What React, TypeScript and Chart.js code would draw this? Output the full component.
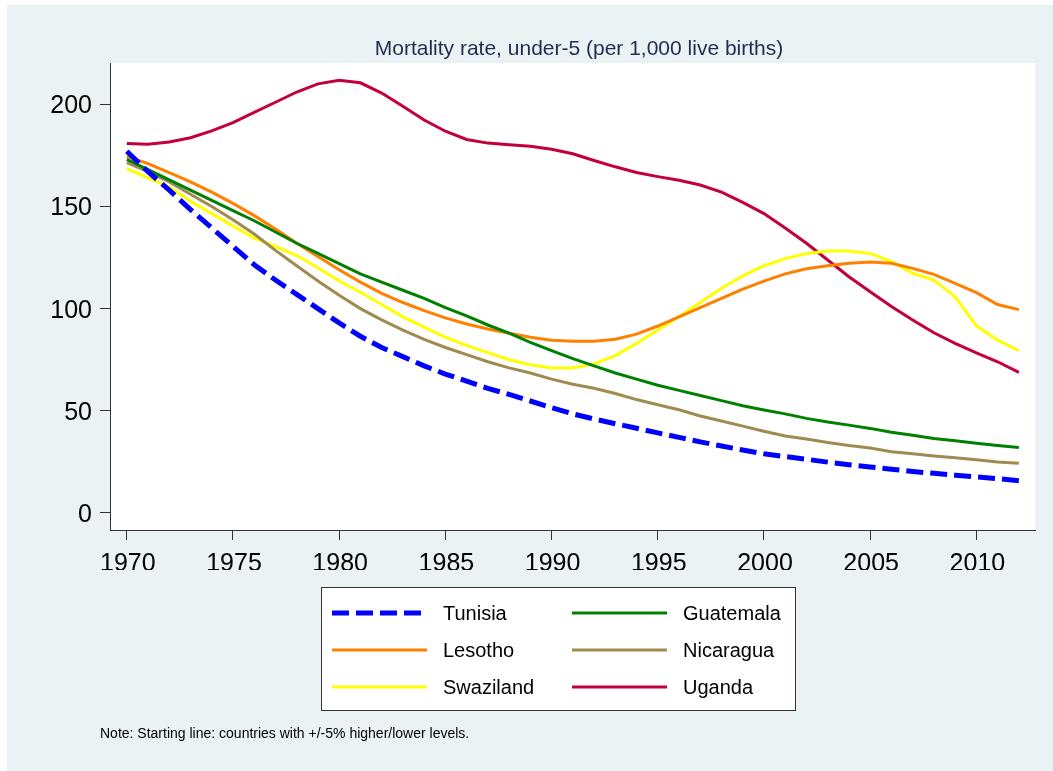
import React, { useEffect, useRef } from "react";
import { Chart, registerables } from "chart.js";
Chart.register(...registerables);

const years = [1970, 1971, 1972, 1973, 1974, 1975, 1976, 1977, 1978, 1979, 1980, 1981, 1982, 1983, 1984, 1985, 1986, 1987, 1988, 1989, 1990, 1991, 1992, 1993, 1994, 1995, 1996, 1997, 1998, 1999, 2000, 2001, 2002, 2003, 2004, 2005, 2006, 2007, 2008, 2009, 2010, 2011, 2012];

const tunisia = [177, 167, 158, 148.5, 139.5, 130.5, 121.5, 114, 107, 100, 93, 86.5, 81, 76.5, 72, 68, 64.5, 61, 58, 54.8, 51.5, 48.5, 46, 43.7, 41.5, 39.2, 37, 34.8, 32.8, 30.8, 29, 27.6, 26.3, 24.9, 23.6, 22.5, 21.4, 20.3, 19.4, 18.5, 17.7, 16.8, 15.8];
const guatemala = [173, 168, 163, 158, 153, 148, 143, 137.5, 132, 127, 122, 117, 113, 109, 105, 100.5, 96.5, 92, 88, 83.5, 79.5, 75.5, 72, 68.5, 65.5, 62.5, 60, 57.5, 55, 52.5, 50.4, 48.5, 46.3, 44.5, 43, 41.4, 39.5, 38, 36.5, 35.3, 34.1, 33, 32];
const lesotho = [174.5, 171, 166.5, 162, 157, 151.5, 145.5, 139, 132, 125.5, 119, 113, 107.5, 103, 99, 95.5, 92.5, 90, 88, 86, 84.5, 84, 84, 85, 87.5, 91.5, 96, 100.5, 105, 109.5, 113.5, 117, 119.5, 121, 122.2, 122.8, 122.2, 119.7, 116.8, 112.4, 107.8, 102, 99.5];
const nicaragua = [171.5, 167, 162, 156, 150, 143.5, 136.5, 128.5, 121, 113.5, 106.5, 100, 94.5, 89.5, 85, 81, 77.5, 74, 71, 68.5, 65.5, 63, 61, 58.5, 55.5, 53, 50.5, 47.5, 45, 42.5, 40, 37.7, 36.2, 34.5, 33, 31.8, 30, 29, 27.9, 27, 26, 25, 24.3];
const swaziland = [168.5, 164, 159.5, 152.5, 146.5, 140.5, 134.5, 130.5, 126, 120, 113.5, 108, 102, 96, 91, 86, 82, 78.5, 75, 72.5, 71, 71, 73, 77, 83, 89.5, 96, 103, 110, 116, 121, 124.5, 127, 128.2, 128.2, 127, 123, 117.3, 114, 105.8, 91.6, 84.6, 79.4];
const uganda = [180.8, 180.5, 181.5, 183.6, 187, 191, 196, 201, 206, 210, 211.8, 210.5, 205.5, 199, 192.3, 186.8, 182.8, 181, 180.2, 179.5, 178, 175.8, 172.5, 169.4, 166.6, 164.6, 162.8, 160.5, 157, 152, 146.5, 139.5, 132, 123.8, 115.6, 108.3, 101, 94.4, 88.2, 83, 78.4, 74, 68.8];

const xTicks = [1970, 1975, 1980, 1985, 1990, 1995, 2000, 2005, 2010];
const yTicks = [0, 50, 100, 150, 200];

const titleText = "Mortality rate, under-5 (per 1,000 live births)";
const noteText = "Note: Starting line: countries with +/-5% higher/lower levels.";

const FONT = "'Liberation Sans', Arial, sans-serif";

export default function App() {
  const ref = useRef<HTMLCanvasElement>(null);

  useEffect(() => {
    document.body.style.margin = "0";
    const toXY = (vals: number[]) => years.map((y, i) => ({ x: y, y: vals[i] }));
    const mk = (label: string, vals: number[], color: string, width: number, dash: number[] = []) => ({
      label,
      data: toXY(vals),
      borderColor: color,
      backgroundColor: color,
      borderWidth: width,
      borderDash: dash,
      borderCapStyle: "butt" as const,
      pointRadius: 0,
      tension: 0,
      fill: false,
    });

    const bgPlugin = {
      id: "bg",
      beforeDraw(chart: any) {
        const { ctx, chartArea } = chart;
        ctx.save();
        ctx.fillStyle = "#ffffff";
        ctx.fillRect(0, 0, chart.width, chart.height);
        ctx.fillStyle = "#EAF2F3";
        ctx.fillRect(7, 5, chart.width - 7, chart.height - 5);
        ctx.fillStyle = "#ffffff";
        ctx.fillRect(chartArea.left, chartArea.top, chartArea.right - chartArea.left, chartArea.bottom - chartArea.top);
        ctx.restore();
      },
      afterDraw(chart: any) {
        const { ctx } = chart;
        ctx.save();
        // title
        ctx.fillStyle = "#1E2D50";
        ctx.font = `21px ${FONT}`;
        ctx.textAlign = "center";
        ctx.textBaseline = "alphabetic";
        ctx.fillText(titleText, 579, 55);
        // legend box
        ctx.fillStyle = "#ffffff";
        ctx.fillRect(321, 587, 475, 124);
        ctx.strokeStyle = "#333333";
        ctx.lineWidth = 1;
        ctx.strokeRect(321.5, 587.5, 474, 123);
        const lineX = [332, 572];
        const textX = [443, 683];
        const rowY = [613, 650, 687];
        chart.data.datasets.forEach((ds: any, i: number) => {
          const col = i % 2;
          const row = Math.floor(i / 2);
          const y = rowY[row];
          ctx.save();
          ctx.strokeStyle = ds.borderColor;
          ctx.lineWidth = ds.borderWidth;
          ctx.lineCap = "butt";
          ctx.setLineDash(ds.borderDash || []);
          ctx.beginPath();
          ctx.moveTo(lineX[col], y);
          ctx.lineTo(lineX[col] + 95, y);
          ctx.stroke();
          ctx.restore();
          ctx.fillStyle = "#000000";
          ctx.font = `20px ${FONT}`;
          ctx.textAlign = "left";
          ctx.textBaseline = "middle";
          ctx.fillText(ds.label, textX[col], y + 1);
        });
        // note
        ctx.fillStyle = "#000000";
        ctx.font = `14px ${FONT}`;
        ctx.textAlign = "left";
        ctx.textBaseline = "alphabetic";
        ctx.fillText(noteText, 100, 738);
        ctx.restore();
      },
    };

    const chart = new Chart(ref.current!, {
      type: "line",
      data: {
        datasets: [
          mk("Tunisia", tunisia, "#0000FF", 5, [17, 7]),
          mk("Guatemala", guatemala, "#008000", 3),
          mk("Lesotho", lesotho, "#FF8000", 3),
          mk("Nicaragua", nicaragua, "#A08A50", 3),
          mk("Swaziland", swaziland, "#FFFF00", 3),
          mk("Uganda", uganda, "#C3003B", 3),
        ],
      },
      options: {
        responsive: false,
        animation: false,
        devicePixelRatio: 1,
        layout: { padding: { left: 0, right: 18, top: 63, bottom: 201 } },
        plugins: {
          legend: { display: false },
          title: { display: false },
          tooltip: { enabled: false },
        },
        scales: {
          x: {
            type: "linear",
            min: 1969.21,
            max: 2012.76,
            afterBuildTicks: (s: any) => {
              s.ticks = xTicks.map((v) => ({ value: v }));
            },
            afterFit: (s: any) => {
              s.height = 40;
            },
            grid: { drawOnChartArea: false, drawTicks: true, tickLength: 10, color: "#333333", lineWidth: 1 },
            border: { display: true, color: "#333333", width: 1 },
            ticks: {
              font: { size: 25, family: FONT },
              color: "#000000",
              padding: 9,
              labelOffset: 1,
              maxRotation: 0,
              autoSkip: false,
              callback: (v: any) => String(v),
            },
          },
          y: {
            type: "linear",
            min: -8.32,
            max: 220.2,
            afterBuildTicks: (s: any) => {
              s.ticks = yTicks.map((v) => ({ value: v }));
            },
            afterFit: (s: any) => {
              s.width = 110;
            },
            grid: { drawOnChartArea: false, drawTicks: true, tickLength: 10, color: "#333333", lineWidth: 1 },
            border: { display: true, color: "#333333", width: 1 },
            ticks: {
              font: { size: 25, family: FONT },
              color: "#000000",
              padding: 8,
              labelOffset: 2,
              callback: (v: any) => String(v),
            },
          },
        },
      },
      plugins: [bgPlugin],
    });
    return () => chart.destroy();
  }, []);

  return (
    <div style={{ position: "relative", width: 1053, height: 771 }}>
      <canvas ref={ref} width={1053} height={771} style={{ display: "block" }} />
    </div>
  );
}
